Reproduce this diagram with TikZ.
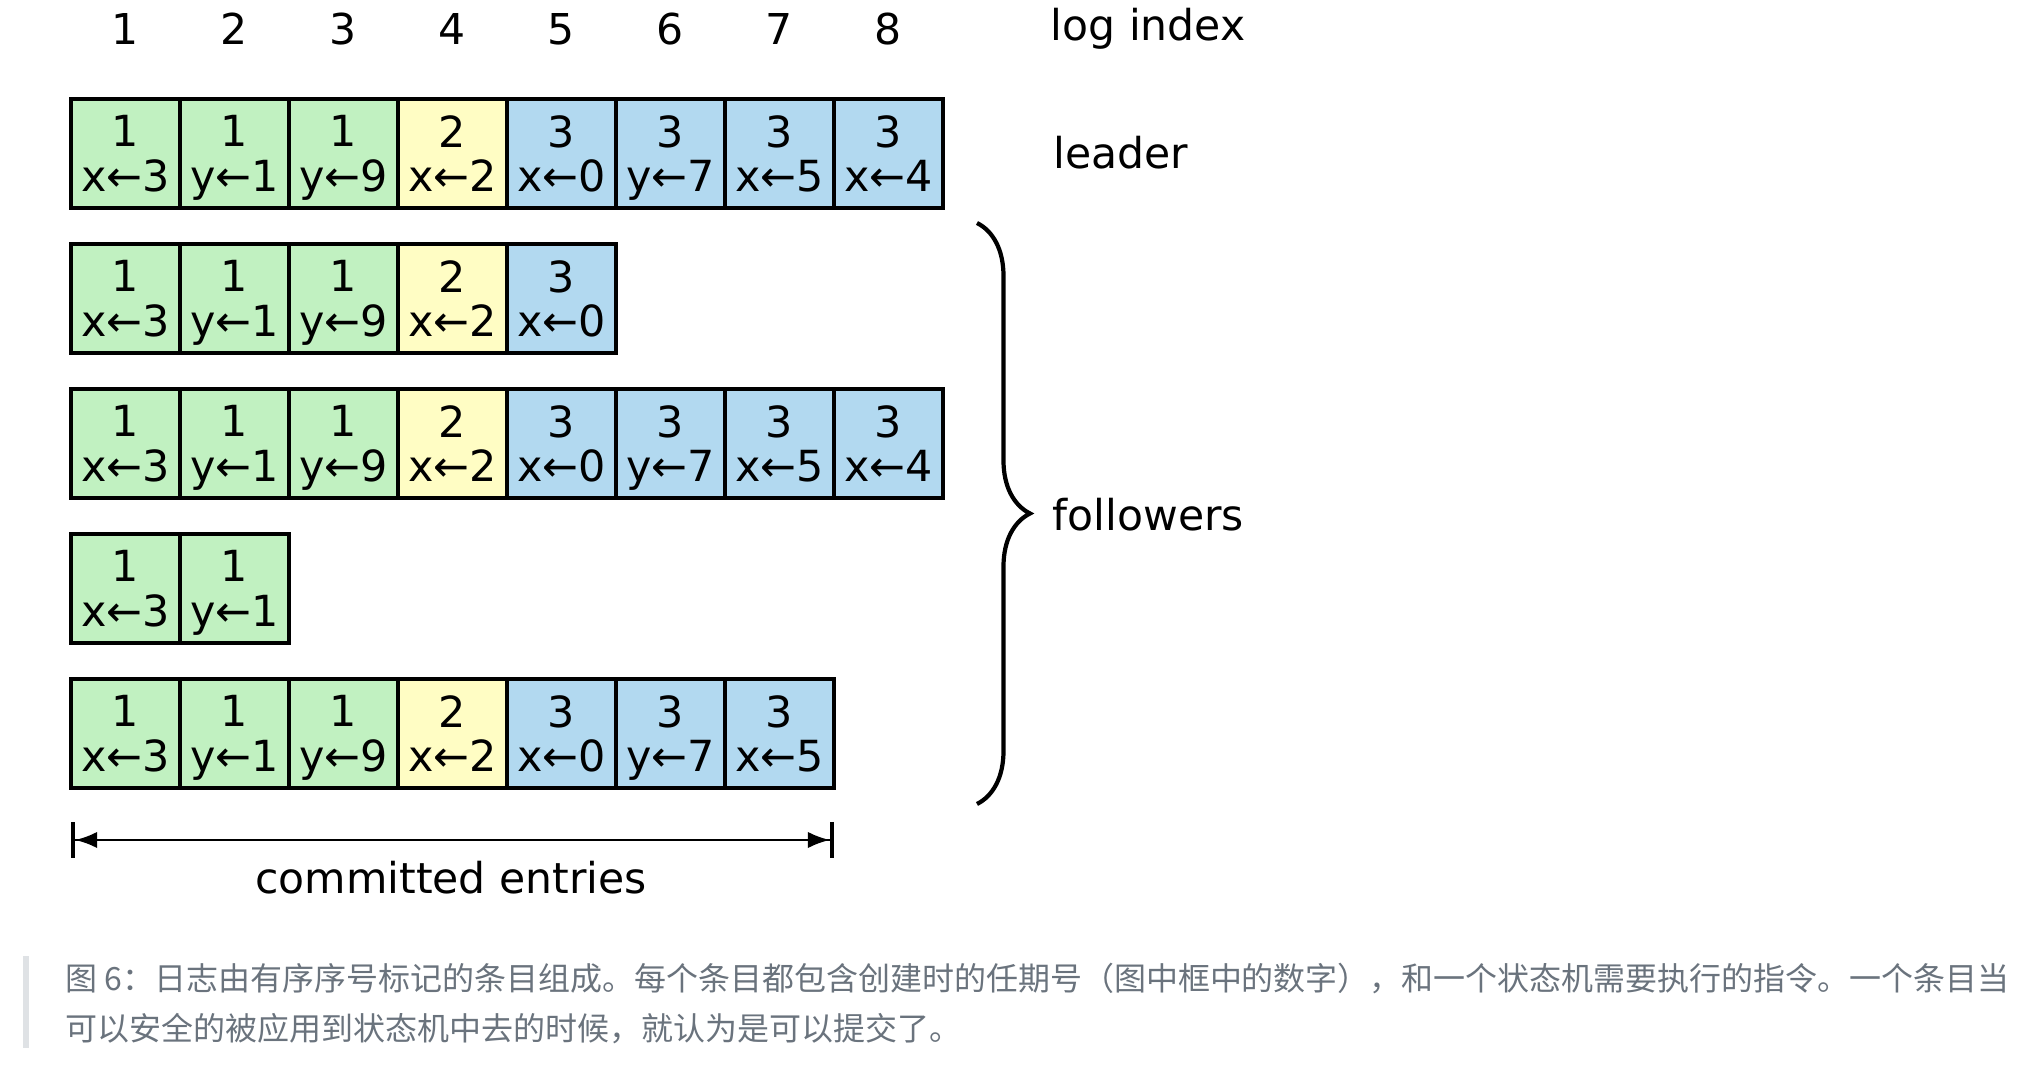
\documentclass[tikz,border=0pt]{standalone}
\usepackage{fontspec}
\setmainfont{DejaVu Sans}
\newfontfamily\cjk{Noto Sans CJK SC}
\usetikzlibrary{arrows.meta,decorations.pathreplacing}

\definecolor{term1}{RGB}{193,241,193}
\definecolor{term2}{RGB}{255,253,196}
\definecolor{term3}{RGB}{178,217,240}
\definecolor{captiongray}{RGB}{106,115,125}
\definecolor{quotebar}{RGB}{223,226,229}

\begin{document}
\begin{tikzpicture}[
  entry/.style={draw, line width=1.2pt, minimum width=1.09cm, minimum height=1.09cm,
    inner sep=0pt, outer sep=0pt, align=center, font=\fontsize{12.2}{12.6}\selectfont},
  label/.style={font=\fontsize{12.1}{14}\selectfont, inner sep=0pt},
  caption/.style={anchor=west, inner sep=0pt, text=captiongray, font=\cjk\fontsize{9.1}{11}\selectfont}]
\useasboundingbox (0,0) rectangle (20.34,-10.72);
% log entries, one row per server
\foreach \len [count=\r] in {8,5,8,2,7} {
  \foreach \t/\cmd [count=\c] in {1/x←3,1/y←1,1/y←9,2/x←2,3/x←0,3/y←7,3/x←5,3/x←4} {
    \ifnum\c>\len\else
      \node [entry, fill=term\t] (e\r-\c) at ({0.71+1.09*(\c-0.5)}, {-0.085-1.45*\r}) {\t\\\smash{\cmd}};
    \fi
  }
}
% index numbers
\foreach \c in {1,...,8}
  \node [label] (idx\c) at ({0.71+1.09*(\c-0.5)}, -0.29) {\c};
\node [label, anchor=west] (logindex) at (10.50,-0.29) {log index};
\node [label, anchor=west] (leader) at (10.53,-1.53) {leader};
\node [label, anchor=west] (followers) at (10.52,-5.15) {followers};
%
\draw [line width=1.2pt, decorate, decoration={brace, amplitude=0.53cm}] (9.77,-2.23) -- (9.77,-8.04);
%
\coordinate (cstart) at (e5-1.west |- 0,-8.40);
\coordinate (cend) at (e5-7.east |- 0,-8.40);
\draw [line width=0.7pt, {Bar[width=3.6mm,line width=1.2pt]Latex[length=2.2mm]}-{Latex[length=2.2mm]Bar[width=3.6mm,line width=1.2pt]}] (cstart) -- (cend);
\node [label] (committed) at (4.51,-8.78) {committed entries};
%
\fill [quotebar] (0.23,-9.56) rectangle (0.29,-10.48);
\node [caption] (cap1) at (0.65,-9.79) {图 6：日志由有序序号标记的条目组成。每个条目都包含创建时的任期号（图中框中的数字），和一个状态机需要执行的指令。一个条目当};
\node [caption] (cap2) at (0.65,-10.29) {可以安全的被应用到状态机中去的时候，就认为是可以提交了。};
%
\end{tikzpicture}
\end{document}
